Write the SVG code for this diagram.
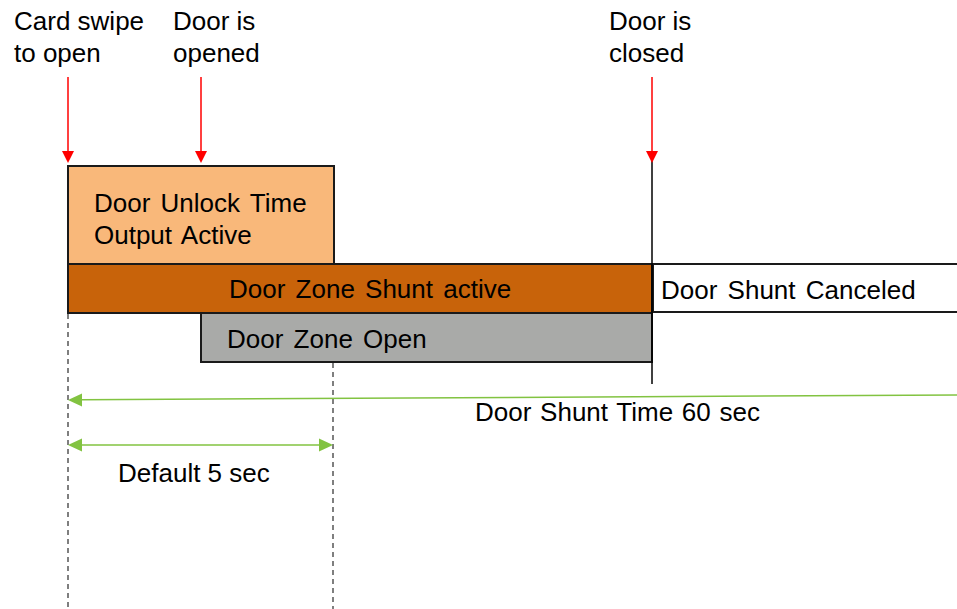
<svg xmlns="http://www.w3.org/2000/svg" width="957" height="609" viewBox="0 0 957 609">
<style>
text{font-family:"Liberation Sans",Arial,sans-serif;font-size:26px;fill:#000}
.ws{word-spacing:3px}
.box{stroke:#1a1a1a;stroke-width:2}
.red{stroke:#ff0000;stroke-width:1.5;fill:none}
.grn{stroke:#82c341;stroke-width:1.5;fill:none}
.dash{stroke:#555;stroke-width:1.5;stroke-dasharray:5,4;fill:none}
</style>
<g id="dashes">
<line class="dash" x1="68" y1="314" x2="68" y2="609"/>
<line class="dash" x1="333" y1="363" x2="333" y2="609"/>
</g>
<g id="unlock">
<rect class="box" x="68" y="166" width="266" height="98" fill="#f9b87a"/>
<text class="ws" x="94" y="212">Door Unlock Time</text>
<text class="ws" x="94" y="244">Output Active</text>
</g>
<g id="shunt">
<rect class="box" x="68" y="264" width="584" height="49" fill="#c8630a"/>
<text class="ws" x="229" y="298">Door Zone Shunt active</text>
</g>
<g id="open">
<rect class="box" x="201" y="313" width="451" height="49" fill="#a9aaa8"/>
<text class="ws" x="227" y="348">Door Zone Open</text>
</g>
<g id="canceled">
<rect class="box" x="653" y="264" width="310" height="48" fill="#ffffff"/>
<text class="ws" x="661" y="299">Door Shunt Canceled</text>
</g>
<g id="labels">
<text x="14" y="30">Card swipe</text>
<text x="14" y="62">to open</text>
<text x="173" y="30">Door is</text>
<text x="173" y="62">opened</text>
<text x="609" y="30">Door is</text>
<text x="609" y="62">closed</text>
<text x="475" y="421" style="word-spacing:1.5px">Door Shunt Time 60 sec</text>
<text x="118" y="482">Default 5 sec</text>
</g>
<g id="connectors">
<line x1="652" y1="160" x2="652" y2="384" stroke="#000" stroke-width="1.5"/>
<path class="red" d="M68,77 V151"/>
<path d="M62,151 L74,151 L68,163 Z" fill="#ff0000"/>
<path class="red" d="M201,77 V151"/>
<path d="M195,151 L207,151 L201,163 Z" fill="#ff0000"/>
<path class="red" d="M652,77 V151"/>
<path d="M646,151 L658,151 L652,163 Z" fill="#ff0000"/>
<line class="grn" x1="957" y1="395" x2="82" y2="399.8"/>
<path d="M68,400 L82,393.5 L82,406.5 Z" fill="#82c341"/>
<line class="grn" x1="82" y1="445" x2="319" y2="445"/>
<path d="M68,445 L82,438.5 L82,451.5 Z" fill="#82c341"/>
<path d="M333,445 L319,438.5 L319,451.5 Z" fill="#82c341"/>
</g>
</svg>
